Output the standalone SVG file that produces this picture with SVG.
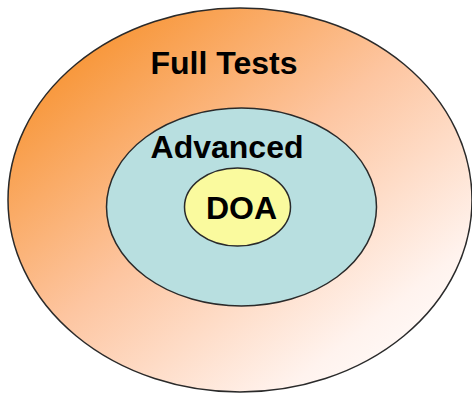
<svg xmlns="http://www.w3.org/2000/svg" width="472" height="396" viewBox="0 0 472 396">
<defs>
<linearGradient id="og" x1="0.1" y1="0.1" x2="0.9" y2="0.95">
<stop offset="0" stop-color="#F7922F"/>
<stop offset="0.45" stop-color="#FDC5A0"/>
<stop offset="0.85" stop-color="#FFF3EE"/>
<stop offset="1" stop-color="#FFFCFB"/>
</linearGradient>
</defs>
<style>
.e{stroke:#2a2a2a;stroke-width:1.5}
.t{font-family:"Liberation Sans",Arial,sans-serif;font-weight:bold;font-size:32px;fill:#000;text-anchor:middle}
</style>
<rect width="472" height="396" fill="#fff"/>
<g id="full">
<ellipse class="e" cx="240" cy="200" rx="232" ry="192" fill="url(#og)"/>
<text class="t" x="224" y="74">Full Tests</text>
</g>
<g id="advanced">
<ellipse class="e" cx="241.5" cy="207" rx="135" ry="99" fill="#B8DFE0"/>
<text class="t" x="227" y="158">Advanced</text>
</g>
<g id="doa">
<ellipse class="e" cx="237.5" cy="207" rx="53" ry="39" fill="#FAFA9E"/>
<text class="t" x="241.5" y="219">DOA</text>
</g>
<g id="connectors"/>
</svg>
